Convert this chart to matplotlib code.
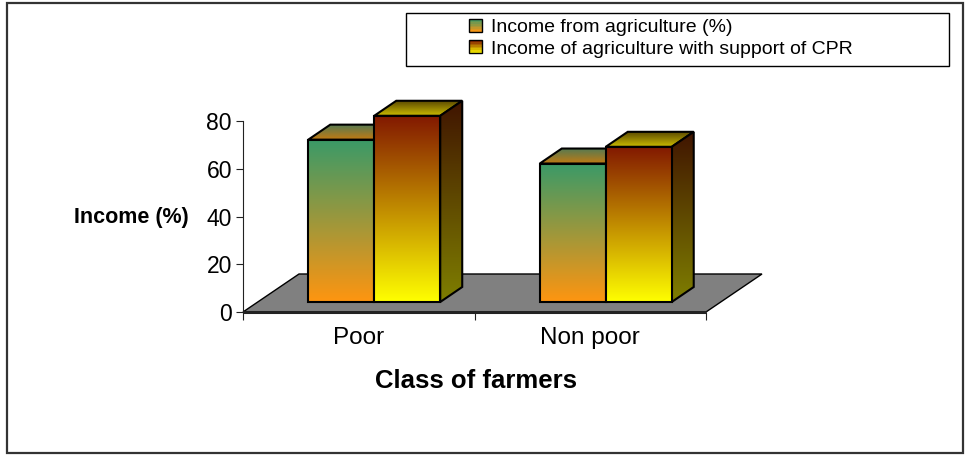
import numpy as np
import matplotlib
matplotlib.use("Agg")
import matplotlib.pyplot as plt
from matplotlib.patches import Polygon, Rectangle
from matplotlib.colors import LinearSegmentedColormap
from matplotlib.legend_handler import HandlerBase

plt.rcParams['font.family'] = ['Liberation Sans', 'DejaVu Sans']

# data
classes = ["Poor", "Non poor"]
series_names = ["Income from agriculture (%)",
                "Income of agriculture with support of CPR"]
income_agri = [68, 58]
income_cpr = [78, 65]
y_ticks = [0, 20, 40, 60, 80]

# gradient colours: (top, bottom) for front, side; (back, front) for top face
front_cols = [("#3a9a68", "#ff9510"), ("#821800", "#ffff00")]
side_cols = [("#2a4d34", "#7f4a08"), ("#401400", "#7f7f00")]
top_cols = [("#5a7a50", "#c47a10"), ("#5e4c00", "#cdbd00")]

W, H = 967, 457
fig = plt.figure(figsize=(W / 100, H / 100), dpi=100)

# axes box: x from 243 to 706 px, value 0..80 from y=312 to y=121 px
ax = fig.add_axes([243 / W, (H - 312) / H, 463 / W, 191 / H])
ax.set_xlim(0, len(classes))
ax.set_ylim(0, 80)
ax.set_autoscale_on(False)

# pixel -> data conversions for the oblique depth
px_x = len(classes) / 463.0
px_y = 80 / 191.0
floor_dx, floor_dy = 56 * px_x, 38 * px_y
bar_off_x, bar_off_y = 15.5 * px_x, 10 * px_y
bar_dx, bar_dy = 22 * px_x, 15 * px_y
bar_w = 0.285

z = [1]


def grad_face(verts, c_top, c_bot, lw=1.5):
    """polygon with a vertical gradient clipped to it"""
    z[0] += 1
    verts = np.array(verts)
    poly = Polygon(verts, closed=True, facecolor="none", edgecolor="black",
                   lw=lw, zorder=z[0] + 0.5, clip_on=False, joinstyle="miter")
    ax.add_patch(poly)
    cmap = LinearSegmentedColormap.from_list("g", [c_bot, c_top])
    grad = np.linspace(0, 1, 256).reshape(-1, 1)
    im = ax.imshow(grad, cmap=cmap, origin="lower", aspect="auto",
                   extent=[verts[:, 0].min(), verts[:, 0].max(),
                           verts[:, 1].min(), verts[:, 1].max()],
                   zorder=z[0], interpolation="bilinear")
    im.set_clip_path(poly)
    im.set_clip_box(fig.bbox)
    return poly


# floor
floor = Polygon([(0, 0), (len(classes), 0),
                 (len(classes) + floor_dx, floor_dy), (floor_dx, floor_dy)],
                closed=True, facecolor="#808080", edgecolor="black", lw=1.0,
                zorder=1, clip_on=False)
ax.add_patch(floor)
ax.plot([0, len(classes)], [0, 0], color="#222222", lw=2.2, zorder=1.5,
        clip_on=False, solid_capstyle="butt")

for i in range(len(classes)):
    vals = [income_agri[i], income_cpr[i]]
    left = i + 0.5 - bar_w + bar_off_x
    for s, v in enumerate(vals):
        x0 = left + s * bar_w
        x1 = x0 + bar_w
        y0 = bar_off_y
        y1 = bar_off_y + v
        # top face
        grad_face([(x0, y1), (x1, y1), (x1 + bar_dx, y1 + bar_dy),
                   (x0 + bar_dx, y1 + bar_dy)],
                  top_cols[s][0], top_cols[s][1])
        # side face
        grad_face([(x1, y0), (x1 + bar_dx, y0 + bar_dy),
                   (x1 + bar_dx, y1 + bar_dy), (x1, y1)],
                  side_cols[s][0], side_cols[s][1])
        # front face
        grad_face([(x0, y0), (x1, y0), (x1, y1), (x0, y1)],
                  front_cols[s][0], front_cols[s][1])

# axes styling
for sp in ["top", "right"]:
    ax.spines[sp].set_visible(False)
ax.spines["left"].set_color("#222222")
ax.spines["bottom"].set_visible(False)
ax.spines["left"].set_linewidth(0.8)
ax.set_yticks(y_ticks)
ax.tick_params(axis="y", labelsize=16.5, length=5, width=0.8, pad=3,
               color="#222222")
ax.set_xticks(np.arange(len(classes) + 1))
ax.set_xticklabels([])
ax.set_xticks(np.arange(len(classes)) + 0.5, minor=True)
ax.set_xticklabels(classes, minor=True, fontsize=17.5)
ax.tick_params(axis="x", which="major", length=6, width=0.8, color="#222222")
ax.tick_params(axis="x", which="minor", length=0, pad=11)
ax.patch.set_visible(False)

fig.text(131 / W, 1 - 218 / H, "Income (%)", fontsize=15.5,
         fontweight="bold", ha="center", va="center")
fig.text(476 / W, 1 - 381 / H, "Class of farmers", fontsize=18.5,
         fontweight="bold", ha="center", va="center")


class GradHandler(HandlerBase):
    def __init__(self, c_top, c_bot):
        super().__init__()
        self.c_top, self.c_bot = c_top, c_bot

    def create_artists(self, legend, orig, xd, yd, width, height, fontsize, trans):
        cmap = LinearSegmentedColormap.from_list("h", [self.c_bot, self.c_top])
        arts = []
        n = 8
        for k in range(n):
            arts.append(Rectangle((-xd, -yd + height * k / n), width, height / n + 0.3,
                                  facecolor=cmap((k + 0.5) / n), edgecolor="none",
                                  transform=trans))
        arts.append(Rectangle((-xd, -yd), width, height, facecolor="none",
                              edgecolor="black", lw=1.0, transform=trans))
        return arts


h1 = Rectangle((0, 0), 1, 1)
h2 = Rectangle((0, 0), 1, 1)
leg = fig.legend([h1, h2], series_names, loc="upper left",
                 bbox_to_anchor=(469 / W, 1 - 19 / H), frameon=False,
                 fontsize=14, borderpad=0, borderaxespad=0,
                 handlelength=0.66, handleheight=0.66, handletextpad=0.45,
                 labelspacing=0.2,
                 handler_map={h1: GradHandler(*front_cols[0]),
                              h2: GradHandler(*front_cols[1])})

# legend box and outer frame
fig.patches.append(Rectangle((406 / W, 1 - 66 / H), 543 / W, 53 / H,
                             transform=fig.transFigure, facecolor="none",
                             edgecolor="black", lw=1.0))
fig.patches.append(Rectangle((7 / W, 1 - 453 / H), 956 / W, 450 / H,
                             transform=fig.transFigure, facecolor="none",
                             edgecolor="#333333", lw=1.6))

fig.savefig("out.png", dpi=100)
